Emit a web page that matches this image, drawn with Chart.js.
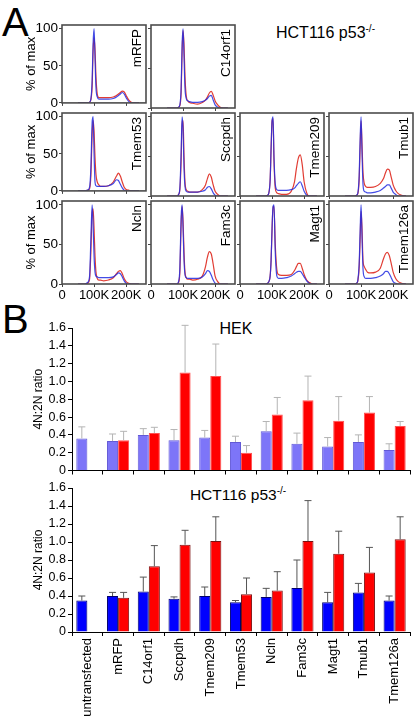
<!DOCTYPE html>
<html>
<head>
<meta charset="utf-8">
<script src="https://cdn.jsdelivr.net/npm/chart.js@4.4.1/dist/chart.umd.min.js"></script>
<style>
  body { margin: 0; background: #fff; }
  #page { position: relative; width: 418px; height: 719px; overflow: hidden; font-family: "Liberation Sans", Arial, sans-serif; color: #000; }
  .cv { position: absolute; }
  .txt { position: absolute; white-space: nowrap; }
  .big { font-size: 40px; line-height: 40px; }
  .sup { font-size: 10px; position: relative; top: -6px; }
</style>
</head>
<body>
<div id="page">
  <div class="txt big" style="left:2px; top:2px;">A</div>
  <div class="txt big" style="left:2px; top:299px;">B</div>
  <div class="txt" style="left:276px; top:25px; font-size:16px; line-height:16px;">HCT116 p53<span class="sup">-/-</span></div>
  <div class="txt" style="left:136px; top:321px; width:200px; text-align:center; font-size:16px; line-height:16px;">HEK</div>
  <div class="txt" style="left:138px; top:487px; width:200px; text-align:center; font-size:15.5px; line-height:16px;">HCT116 p53<span class="sup">-/-</span></div>
</div>
<script>
// ---- panel A: DNA content histograms (x in K, y in % of max) ----
const dnaBins = [50, 70, 80, 86, 90, 94, 97, 100, 103, 106, 110, 115, 120, 130, 145, 160, 170, 176, 182, 188, 194, 200, 208, 216, 226, 240];

const mrfpCtrl = [0,0,0,1,5,30,80,100,60,20,8,5,5,5,5,6,8,10,12,14,12,7,2,0,0,0];
const mrfpGene = [0,0,0,1,4,22,70,88,72,35,12,7,7,7,7,8,10,12,14,16,15,10,4,1,0,0];
const c14Ctrl = [0,0,0,1,4,25,80,100,65,25,12,9,8,7,7,8,10,12,15,16,10,4,1,0,0,0];
const c14Gene = [0,0,0,1,3,20,70,98,80,40,15,9,7,6,5,7,10,14,19,21,16,9,4,1,0,0];
const tmem53Ctrl = [0,0,1,5,30,92,100,50,12,7,6,6,6,6,7,10,15,14,9,4,1,0,0,0,0,0];
const tmem53Gene = [0,0,1,3,20,75,95,80,45,22,12,8,6,6,7,12,20,24,20,12,5,2,1,0,0,0];
const sccpdhCtrl = [0,0,0,2,10,55,100,85,35,12,6,5,5,5,5,6,8,11,12,9,4,1,0,0,0,0];
const sccpdhGene = [0,0,0,2,8,45,95,95,50,18,8,6,5,5,5,8,14,22,28,24,14,6,2,0,0,0];
const tmem209Ctrl = [0,0,0,1,4,20,60,95,100,50,15,8,7,7,7,8,10,13,16,18,13,6,1,0,0,0];
const tmem209Gene = [0,0,0,1,4,20,60,95,98,45,10,4,3,2,2,6,18,35,48,52,40,18,4,0,0,0];
const tmub1Ctrl = [0,0,0,1,4,25,70,100,55,15,6,5,4,4,5,7,10,12,14,14,10,5,2,0,0,0];
const tmub1Gene = [0,0,0,1,3,20,60,95,65,30,16,12,11,11,12,16,22,29,34,33,24,14,7,3,1,0];
const nclnCtrl = [0,0,2,10,55,100,75,35,15,10,9,8,8,8,8,9,12,14,13,9,4,1,0,0,0,0];
const nclnGene = [0,0,1,6,40,90,95,70,35,15,7,5,5,4,5,8,13,16,17,13,7,3,1,0,0,0];
const fam3cCtrl = [0,0,0,3,20,85,100,70,30,12,8,7,7,7,7,9,13,17,16,11,5,1,0,0,0,0];
const fam3cGene = [0,0,0,2,15,75,98,80,40,15,8,6,6,5,6,10,22,34,41,38,25,10,3,0,0,0];
const magt1Ctrl = [0,0,0,1,3,10,30,70,98,100,40,10,7,7,8,10,13,15,16,16,13,9,4,1,0,0];
const magt1Gene = [0,0,0,1,3,10,30,70,98,98,50,18,12,11,11,12,17,22,26,26,20,12,5,2,0,0];
const tmem126aCtrl = [0,0,0,1,5,25,65,100,60,20,9,7,7,7,8,10,13,16,16,13,8,3,1,0,0,0];
const tmem126aGene = [0,0,0,1,4,20,55,92,70,30,22,18,15,14,15,20,32,38,40,36,26,15,7,3,1,0];

// ---- panel B: 4N:2N ratios (mean and error) ----
const genes = ['untransfected', 'mRFP', 'C14orf1', 'Sccpdh', 'Tmem209', 'Tmem53', 'Ncln', 'Fam3c', 'Magt1', 'Tmub1', 'Tmem126a'];
const hekCtrl = [0.36, 0.33, 0.40, 0.34, 0.37, 0.32, 0.44, 0.30, 0.27, 0.32, 0.23];
const hekCtrlErr = [0.13, 0.08, 0.07, 0.12, 0.08, 0.065, 0.11, 0.12, 0.10, 0.08, 0.07];
const hekGene = [null, 0.34, 0.42, 1.10, 1.06, 0.20, 0.63, 0.79, 0.56, 0.65, 0.50];
const hekGeneErr = [null, 0.10, 0.065, 0.53, 0.36, 0.08, 0.19, 0.27, 0.27, 0.18, 0.05];
const hctCtrl = [0.35, 0.40, 0.45, 0.37, 0.40, 0.33, 0.39, 0.49, 0.33, 0.44, 0.35];
const hctCtrlErr = [0.05, 0.04, 0.16, 0.02, 0.10, 0.02, 0.095, 0.31, 0.11, 0.10, 0.05];
const hctGene = [null, 0.38, 0.73, 0.97, 1.01, 0.42, 0.46, 1.01, 0.87, 0.66, 1.03];
const hctGeneErr = [null, 0.06, 0.23, 0.16, 0.27, 0.18, 0.21, 0.45, 0.25, 0.28, 0.25];

const FONT = '"Liberation Sans", Arial, sans-serif';
Chart.defaults.font.family = FONT;
Chart.defaults.color = '#000';

const page = document.getElementById('page');

function addCanvas(left, top, w, h) {
  const c = document.createElement('canvas');
  c.width = w;
  c.height = h;
  c.className = 'cv';
  c.style.left = left + 'px';
  c.style.top = top + 'px';
  page.appendChild(c);
  return c;
}

// frame round the plot area + name written upwards in the top right corner
const boxPlugin = {
  id: 'boxPlugin',
  afterDraw(chart) {
    const { ctx, chartArea: a } = chart;
    ctx.save();
    ctx.strokeStyle = '#4d4d4d';
    ctx.lineWidth = 1.6;
    ctx.strokeRect(a.left, a.top, a.right - a.left, a.bottom - a.top);
    ctx.translate(a.right - 9, a.top + 4);
    ctx.rotate(-Math.PI / 2);
    ctx.textAlign = 'right';
    ctx.textBaseline = 'middle';
    ctx.fillStyle = '#000';
    ctx.font = '13.5px ' + FONT;
    ctx.fillText(chart.options.plugins.boxPlugin.text, 0, 0);
    ctx.restore();
  },
};

const histPanels = [
  { name: 'mRFP', col: 0, row: 0, ctrl: mrfpCtrl, gene: mrfpGene },
  { name: 'C14orf1', col: 1, row: 0, ctrl: c14Ctrl, gene: c14Gene },
  { name: 'Tmem53', col: 0, row: 1, ctrl: tmem53Ctrl, gene: tmem53Gene },
  { name: 'Sccpdh', col: 1, row: 1, ctrl: sccpdhCtrl, gene: sccpdhGene },
  { name: 'Tmem209', col: 2, row: 1, ctrl: tmem209Ctrl, gene: tmem209Gene },
  { name: 'Tmub1', col: 3, row: 1, ctrl: tmub1Ctrl, gene: tmub1Gene },
  { name: 'Ncln', col: 0, row: 2, ctrl: nclnCtrl, gene: nclnGene },
  { name: 'Fam3c', col: 1, row: 2, ctrl: fam3cCtrl, gene: fam3cGene },
  { name: 'Magt1', col: 2, row: 2, ctrl: magt1Ctrl, gene: magt1Gene },
  { name: 'Tmem126a', col: 3, row: 2, ctrl: tmem126aCtrl, gene: tmem126aGene },
];

const BOX_LEFT = [62, 151, 240, 329];
const BOX_TOP = [25, 113, 201];
const BOX_W = 84;
const BOX_H = 83;

const toPoints = (arr) => arr.map((v, i) => ({ x: dnaBins[i], y: v }));

histPanels.forEach((p) => {
  const first = p.col === 0;
  const bottom = p.row === 2;
  const yW = first ? 62 : 5;
  const xH = bottom ? 22 : 4;
  const padTop = 10;
  const padRight = 2;
  const canvas = addCanvas(BOX_LEFT[p.col] - yW, BOX_TOP[p.row] - padTop, yW + BOX_W + padRight, padTop + BOX_H + xH);

  // first dataset is drawn on top, so the blue control goes first
  new Chart(canvas, {
    type: 'line',
    data: {
      datasets: [
        { data: toPoints(p.ctrl), borderColor: 'rgba(35,45,225,0.85)' },
        { data: toPoints(p.gene), borderColor: 'rgba(222,40,30,0.9)' },
      ],
    },
    options: {
      responsive: false,
      animation: false,
      events: [],
      layout: { padding: { top: padTop, right: padRight, left: 0, bottom: 0 }, autoPadding: false },
      elements: {
        point: { radius: 0 },
        line: { borderWidth: 1.2, cubicInterpolationMode: 'monotone' },
      },
      plugins: { legend: { display: false }, tooltip: { enabled: false }, boxPlugin: { text: p.name } },
      scales: {
        x: {
          type: 'linear',
          min: 0,
          max: 262,
          afterFit: (s) => { s.height = xH; },
          border: { display: false },
          grid: { drawOnChartArea: false, tickLength: 3, color: '#444' },
          ticks: {
            display: bottom,
            stepSize: 100,
            includeBounds: false,
            maxRotation: 0,
            autoSkip: false,
            padding: 1,
            font: { size: 13 },
            callback: (v) => (v === 0 ? '0' : v + 'K'),
          },
        },
        y: {
          min: 0,
          max: 105,
          afterFit: (s) => { s.width = yW; },
          border: { display: false },
          grid: { drawOnChartArea: false, tickLength: 3, color: '#444' },
          ticks: { display: first, stepSize: 50, includeBounds: false, padding: 1, font: { size: 13.5 } },
          title: { display: first, text: '% of max', padding: { top: 24 }, font: { size: 13 } },
        },
      },
    },
    plugins: [boxPlugin],
  });
});

// ---- panel B bar charts ----
function errorBarPlugin(color) {
  return {
    id: 'errorBars',
    afterDatasetsDraw(chart) {
      const { ctx } = chart;
      const yScale = chart.scales.y;
      ctx.save();
      ctx.strokeStyle = color;
      ctx.lineWidth = 1;
      chart.data.datasets.forEach((ds, i) => {
        chart.getDatasetMeta(i).data.forEach((bar, j) => {
          const v = ds.data[j];
          const e = ds.err[j];
          if (v == null || e == null) return;
          const yTop = yScale.getPixelForValue(v + e);
          ctx.beginPath();
          ctx.moveTo(bar.x, bar.y);
          ctx.lineTo(bar.x, yTop);
          ctx.moveTo(bar.x - 3.5, yTop);
          ctx.lineTo(bar.x + 3.5, yTop);
          ctx.stroke();
        });
      });
      ctx.restore();
    },
  };
}

function ratioChart(canvas, cfg) {
  return new Chart(canvas, {
    type: 'bar',
    data: {
      labels: genes,
      datasets: [
        { data: cfg.ctrl, err: cfg.ctrlErr, backgroundColor: cfg.blue, borderColor: cfg.blueEdge, borderWidth: 1 },
        { data: cfg.gene, err: cfg.geneErr, backgroundColor: cfg.red, borderColor: cfg.redEdge, borderWidth: 1 },
      ],
    },
    options: {
      responsive: false,
      animation: false,
      events: [],
      layout: { padding: { top: 10, right: 8, left: 0, bottom: 0 }, autoPadding: false },
      datasets: { bar: { categoryPercentage: 0.72, barPercentage: 1 } },
      plugins: { legend: { display: false }, tooltip: { enabled: false } },
      scales: {
        x: {
          afterFit: (s) => { s.height = cfg.xH; },
          border: { color: '#000', width: 1 },
          grid: { offset: true, drawOnChartArea: false, tickLength: 4, color: '#000' },
          ticks: {
            display: cfg.showLabels,
            minRotation: 90,
            maxRotation: 90,
            autoSkip: false,
            padding: 2,
            font: { size: 13 },
          },
        },
        y: {
          min: 0,
          max: 1.6,
          afterFit: (s) => { s.width = 72; },
          border: { color: '#000', width: 1 },
          grid: { drawOnChartArea: false, tickLength: 4, color: '#000' },
          ticks: {
            stepSize: 0.2,
            padding: 2,
            font: { size: 12.5 },
            callback: (v) => (v === 0 ? '0' : v.toFixed(1)),
          },
          title: { display: true, text: '4N:2N ratio', padding: { top: 31 }, font: { size: 12 } },
        },
      },
    },
    plugins: [errorBarPlugin(cfg.errColor)],
  });
}

ratioChart(addCanvas(0, 318, 418, 162), {
  ctrl: hekCtrl, ctrlErr: hekCtrlErr, gene: hekGene, geneErr: hekGeneErr,
  blue: '#7d75f8', blueEdge: '#6259d6', red: '#ff0000', redEdge: '#ff5050',
  errColor: '#b4b4b4', xH: 8, showLabels: false,
});

ratioChart(addCanvas(0, 478, 418, 241), {
  ctrl: hctCtrl, ctrlErr: hctCtrlErr, gene: hctGene, geneErr: hctGeneErr,
  blue: '#0000ff', blueEdge: '#00006e', red: '#ff0000', redEdge: '#7a1010',
  errColor: '#555555', xH: 87, showLabels: true,
});
</script>
</body>
</html>
